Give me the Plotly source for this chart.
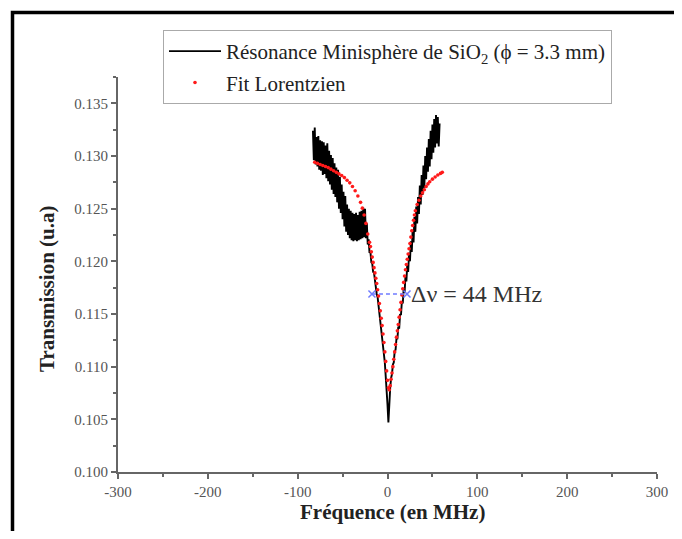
import plotly.graph_objects as go

# ---------------- data ----------------
# Measured resonance (noisy), frequency in MHz, transmission in 1e-3 a.u.
meas_x = list(range(-83, 59))
meas_y_milli = [
    132.4, 129.6, 132.7, 129.2, 131.8, 129.0, 131.9, 128.7, 131.5, 128.6,
    131.4, 128.2, 131.3, 128.3, 131.0, 127.9, 131.2, 127.6, 130.5, 127.3,
    130.1, 126.8, 129.8, 126.4, 129.3, 126.1, 128.9, 125.6, 128.7, 125.0,
    128.0, 124.6, 127.3, 124.0, 126.6, 123.3, 126.2, 122.8, 125.4, 122.5,
    125.0, 122.2, 124.8, 122.0, 124.6, 121.9, 124.5, 122.0, 124.6, 121.9,
    124.4, 122.0, 124.7, 122.1, 124.8, 122.2, 125.1, 122.3, 125.0, 122.2,
    123.6, 121.6, 122.1, 120.8, 120.9, 119.9, 119.8, 119.0, 118.9, 118.0,
    117.8, 116.9, 116.6, 115.8, 115.3, 114.5, 113.9, 113.0, 112.3, 111.2,
    110.4, 109.1, 108.0, 106.4, 104.7, 107.0, 108.0, 108.9, 109.3, 110.2,
    110.4, 111.5, 111.6, 112.7, 112.6, 113.8, 113.6, 115.0, 114.9, 116.2,
    116.0, 117.4, 117.0, 118.6, 118.1, 119.7, 119.0, 120.8, 120.0, 121.9,
    120.9, 123.0, 121.8, 124.2, 122.8, 125.2, 123.6, 126.1, 124.5, 127.2,
    125.4, 128.2, 126.3, 129.1, 127.0, 130.0, 127.8, 130.8, 128.5, 131.6,
    129.0, 132.4, 129.7, 133.0, 130.3, 133.5, 130.8, 133.9, 131.2, 133.7,
    130.9, 133.1,
]

# Lorentzian fit
fit_x = [-81, -78, -75, -72, -69, -66, -63, -60, -57, -54, -51, -48, -45, -42,
         -39, -36, -33, -30, -28, -26, -24, -22, -20, -19, -18, -17, -16, -15,
         -14, -13, -12, -11, -10, -9, -8, -7, -6, -5, -4, -3, -2, -1, 0, 1, 2,
         3, 4, 5, 6, 7, 8, 9, 10, 11, 12, 13, 14, 15, 16, 17, 18, 19, 20, 21,
         22, 23, 24, 25, 26, 27, 28, 29, 30, 31, 33, 35, 37, 39, 41, 43, 45,
         47, 50, 53, 56, 59, 61]
fit_y_milli = [129.4, 129.3, 129.2, 129.1, 129.0, 128.9, 128.75, 128.6, 128.45,
               128.3, 128.15, 127.95, 127.7, 127.45, 127.1, 126.7, 126.2, 125.6,
               125.05, 124.4, 123.6, 122.6, 121.8, 121.4, 120.9, 120.4, 119.9,
               119.4, 118.9, 118.4, 117.9, 117.3, 116.7, 116.0, 115.3, 114.6,
               113.9, 113.1, 112.3, 111.4, 110.5, 109.6, 108.7, 108.0, 107.8,
               108.2, 108.8, 109.4, 110.0, 110.7, 111.4, 112.1, 112.8, 113.4,
               114.0, 114.7, 115.4, 116.1, 116.8, 117.4, 118.0, 118.6, 119.2,
               119.7, 120.2, 120.7, 121.2, 121.7, 122.3, 122.9, 123.4, 123.9,
               124.4, 124.8, 125.4, 125.8, 126.2, 126.5, 126.8, 127.1, 127.35,
               127.55, 127.8, 128.0, 128.2, 128.35, 128.45]

# Linewidth marker (FWHM)
fwhm_x = [-17.3, 21.7]
fwhm_y = [0.1169, 0.1169]
fwhm_label = "Δν = 44 MHz"

x_tick_vals = [-300, -200, -100, 0, 100, 200, 300]
x_tick_text = ["-300", "-200", "-100", "0", "100", "200", "300"]
y_tick_vals = [0.100, 0.105, 0.110, 0.115, 0.120, 0.125, 0.130, 0.135]

meas_name = "Résonance Minisphère de SiO<sub>2</sub> (ϕ = 3.3 mm)"
fit_name = "Fit Lorentzien"
x_title = "<b>Fréquence (en MHz)</b>"
y_title = "<b>Transmission (u.a)</b>"

meas_y = [v / 1000 for v in meas_y_milli]
fit_y = [v / 1000 for v in fit_y_milli]

FONT = "Liberation Serif, Times New Roman, serif"

# figure sized to the page area inside the default 8px body margin
FW, FH = 666, 523
L, T, R, B = 110, 69, 17, 59
W, H = FW - L - R, FH - T - B

fig = go.Figure()
fig.add_trace(go.Scatter(x=meas_x, y=meas_y, mode="lines", name=meas_name,
                         line=dict(color="black", width=1.9),
                         legendgroup="a"))
fig.add_trace(go.Scatter(x=fit_x, y=fit_y, mode="markers", name=fit_name,
                         marker=dict(color="#ff1a1a", size=3.6),
                         legendgroup="b"))
fig.add_trace(go.Scatter(x=fwhm_x, y=fwhm_y, mode="lines+markers",
                         showlegend=False,
                         line=dict(color="#6f7bff", width=1.6, dash="4px,3px"),
                         marker=dict(symbol="x-thin", size=7,
                                     line=dict(color="#6f7bff", width=1.5))))

fig.add_annotation(x=fwhm_x[1] + 2, y=fwhm_y[0], text=fwhm_label,
                   showarrow=False, xanchor="left", yanchor="middle",
                   font=dict(family=FONT, size=24, color="#333"))

# axis titles (placed as in the reference)
fig.add_annotation(xref="paper", yref="paper",
                   x=(39 - L) / W, y=1 - (281 - T) / H, text=y_title,
                   textangle=-90, showarrow=False,
                   xanchor="center", yanchor="middle",
                   font=dict(family=FONT, size=21, color="#222"))
fig.add_annotation(xref="paper", yref="paper",
                   x=(384 - L) / W, y=-(504 - (T + H)) / H, text=x_title,
                   showarrow=False, xanchor="center", yanchor="middle",
                   font=dict(family=FONT, size=21, color="#222"))

axis_common = dict(
    showline=True, linecolor="#666", linewidth=2,
    ticks="outside", ticklen=5, tickwidth=1.5, tickcolor="#666",
    showgrid=False, zeroline=False, mirror=False, automargin=False,
    tickfont=dict(family=FONT, size=15, color="#555"),
)

fig.update_xaxes(range=[-300, 300], tickvals=x_tick_vals, ticktext=x_tick_text,
                 minor=dict(ticks="outside", ticklen=3, tickcolor="#666",
                            tickwidth=1.5, dtick=50, tick0=0),
                 **axis_common)
fig.update_yaxes(range=[0.100, 0.1375], tickvals=y_tick_vals, tickformat=".3f",
                 minor=dict(ticks="outside", ticklen=3, tickcolor="#666",
                            tickwidth=1.5, dtick=0.0025, tick0=0.1),
                 **axis_common)

# outer black frame (left and top edges visible)
fx = (4.5 - L) / W
fy = 1 + (T - 4.5) / H
fig.add_shape(type="path", xref="paper", yref="paper",
              path=f"M {fx},-0.5 L {fx},{fy} L 1.3,{fy}",
              line=dict(color="black", width=3.5))

fig.update_layout(
    width=FW, height=FH,
    margin=dict(l=L, r=R, t=T, b=B, autoexpand=False),
    paper_bgcolor="white", plot_bgcolor="white",
    font=dict(family=FONT),
    legend=dict(x=(155 - L) / W, y=1 + (T - 22) / H, xanchor="left",
                yanchor="top", bordercolor="#aaa", borderwidth=1,
                bgcolor="rgba(255,255,255,0)", tracegroupgap=1,
                itemwidth=52,
                font=dict(family=FONT, size=21, color="#222")),
    showlegend=True,
)

fig.write_html("out.html")
